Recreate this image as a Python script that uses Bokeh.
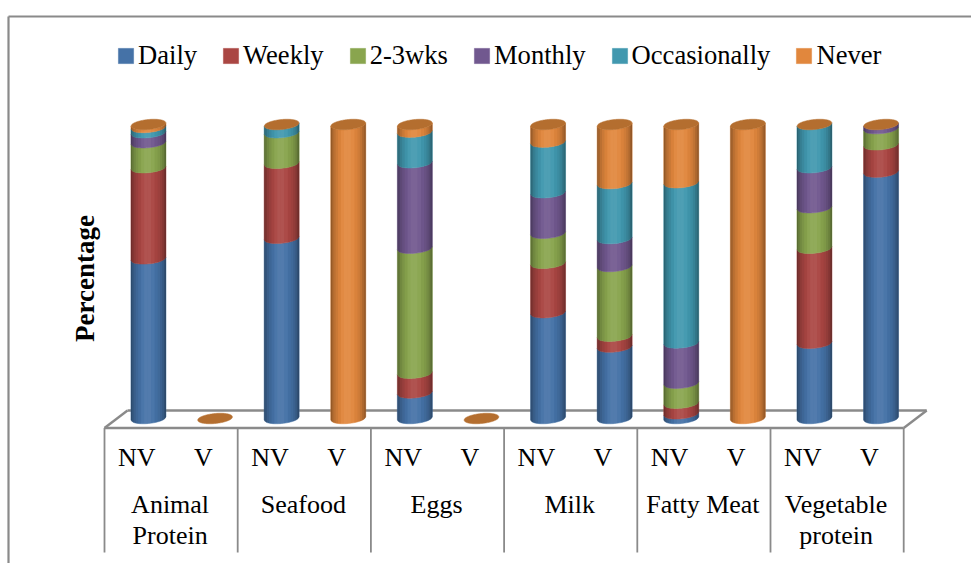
from bokeh.plotting import figure, ColumnDataSource
from bokeh.models import Range1d, LinearAxis, FixedTicker, Legend, LegendItem
from bokeh.core.properties import value
from bokeh.embed import file_html
from bokeh.resources import INLINE
import math

# ---------- data ----------
groups = ["Animal\nProtein", "Seafood", "Eggs", "Milk", "Fatty Meat", "Vegetable\nprotein"]
subgroups = ["NV", "V"]
series_names = ["Daily", "Weekly", "2-3wks", "Monthly", "Occasionally", "Never"]
series_colors = ["#4572A7", "#AA4643", "#89A54E", "#71588F", "#4198AF", "#E1873D"]
# bar order: Animal NV, V, Seafood NV, V, Eggs NV, V, Milk NV, V, Fatty NV, V, Veg NV, V
daily        = [54.3, 0, 61.3, 0,   8.7, 0, 36.0, 24.3, 1.6, 0,   25.6, 83.8]
weekly       = [31.0, 0, 25.5, 0,   6.7, 0, 16.8, 3.7,  3.6, 0,   32.3, 9.3]
two_three    = [8.5,  0, 10.4, 0,  42.5, 0, 10.2, 23.7, 6.8, 0,   13.8, 5.5]
monthly      = [3.4,  0, 0,    0,  29.1, 0, 13.8, 9.5, 13.7, 0,   13.6, 1.4]
occasionally = [1.8,  0, 2.8,  0,  10.4, 0, 17.2, 18.7, 54.5, 0,  14.7, 0]
never        = [1.0,  0, 0,    100, 2.6, 0, 6.0,  20.1, 19.8, 100, 0,   0]
series_values = [daily, weekly, two_three, monthly, occasionally, never]

# ---------- layout ----------
W, H = 971, 563
PX0, PY0 = 0, 0            # page offset of the figure
SLOT = 66.6                # px per bar slot
X0 = 137.3                 # page x of slot 0 on the front edge
Y0 = 423.0                 # page y of value 0 (front of base)
UNIT = 2.94                # px per percent
def sx(px): return (px - X0) / SLOT
def sy(py): return (Y0 - py) / UNIT

GREY = "#8A8A8A"
FONT = "Liberation Serif"
CAP = "#B46E2F"
DEPTH = 0.16               # bar offset in slots, from the floor's depth
HALF_W = 17.5 / SLOT
ARC = 5.0 / UNIT           # half height of a cross-section ellipse
TILT = 1.6 / UNIT          # the ellipses lean slightly up to the right
FLOOR_F, FLOOR_B = 427.5, 410.0

p = figure(width=W, height=H, output_backend="svg", toolbar_location=None,
           x_range=Range1d(sx(PX0), sx(PX0 + W)), y_range=Range1d(sy(PY0 + H), sy(PY0)),
           x_axis_location=None, y_axis_location=None, min_border=0,
           outline_line_color=None, background_fill_color="white")
p.grid.visible = False

def arc(v, ts, sign=-1):
    return [v + TILT * t + sign * ARC * math.sqrt(max(0, 1 - t * t)) + ARC for t in ts]

ts = [-1 + 2 * i / 20 for i in range(21)]
n = len(daily)

# chart frame
p.segment([sx(8), sx(8)], [sy(16), sy(16)], [sx(8), sx(971)], [sy(PY0 + H), sy(16)],
          line_color=GREY, line_width=2.2)

# floor
edges = [-0.5 + 2 * i for i in range(len(groups) + 1)]
shift = 23 / SLOT
p.segment([edges[0], edges[0] + shift, edges[0], edges[-1]],
          [sy(FLOOR_F), sy(FLOOR_B), sy(FLOOR_F), sy(FLOOR_F)],
          [edges[-1], edges[-1] + shift, edges[0] + shift, edges[-1] + shift],
          [sy(FLOOR_F), sy(FLOOR_B), sy(FLOOR_B), sy(FLOOR_B)],
          line_color=GREY, line_width=2.4)
p.segment(edges, [sy(FLOOR_F)] * len(edges), edges, [sy(552)] * len(edges),
          line_color=GREY, line_width=1.8)

# cylinder bodies, one renderer per series
body = []
for s, vals in enumerate(series_values):
    xs, ys = [], []
    for i in range(n):
        if vals[i] <= 0:
            continue
        base = sum(series_values[k][i] for k in range(s))
        top = base + vals[i]
        cx = i + DEPTH
        xs.append([cx + t * HALF_W for t in ts] + [cx + t * HALF_W for t in reversed(ts)])
        ys.append(arc(base, ts) + arc(top, list(reversed(ts))))
    body.append(p.patches(xs, ys, fill_color=series_colors[s], line_color=series_colors[s],
                          line_width=0.5))

# cylinder shading
shade_t = [-1, -0.93, -0.84, -0.72, -0.58, -0.42, -0.25, -0.05, 0.15, 0.35, 0.52, 0.66, 0.78, 0.88, 0.95, 1]
shade_c = ["black", "black", "black", "black", "black", "white", "white", "white", "white",
           "black", "black", "black", "black", "black", "black"]
shade_a = [0.34, 0.26, 0.17, 0.10, 0.04, 0.03, 0.07, 0.07, 0.03, 0.03, 0.08, 0.14, 0.22, 0.31, 0.40]
sh = {"x": [], "y": [], "c": [], "a": []}
for i in range(n):
    total = sum(v[i] for v in series_values)
    if total <= 0:
        continue
    cx = i + DEPTH
    for j in range(len(shade_c)):
        a, b = shade_t[j], shade_t[j + 1]
        pair = [a + (b - a) * q / 3 for q in range(4)]
        sh["x"].append([cx + t * HALF_W for t in pair] + [cx + t * HALF_W for t in reversed(pair)])
        sh["y"].append(arc(0, pair) + arc(total, list(reversed(pair))))
        sh["c"].append(shade_c[j])
        sh["a"].append(shade_a[j])
p.patches("x", "y", source=ColumnDataSource(sh), fill_color="c", fill_alpha="a", line_color=None)

# top caps
tc = [-1 + 2 * i / 40 for i in range(41)]
cap_x, cap_y = [], []
for i in range(n):
    total = sum(v[i] for v in series_values)
    cx = i + DEPTH
    cap_x.append([cx + t * HALF_W for t in tc] + [cx + t * HALF_W for t in reversed(tc)])
    cap_y.append(arc(total, tc) + arc(total, list(reversed(tc)), sign=1))
p.patches(cap_x, cap_y, fill_color=CAP, line_color=CAP, line_width=0.5)

# category labels
tick_pos = [i - 0.015 for i in range(n)]
xaxis = LinearAxis(fixed_location=sy(FLOOR_F), ticker=FixedTicker(ticks=tick_pos),
                   major_label_overrides={t: subgroups[i % 2] for i, t in enumerate(tick_pos)},
                   axis_line_color=None, major_tick_line_color=None, minor_tick_line_color=None,
                   major_label_standoff=9, major_label_text_font=FONT,
                   major_label_text_font_size="26px", major_label_text_color="black")
p.add_layout(xaxis, "below")

p.text([0.5 + 2 * i for i in range(len(groups))], [sy(489)] * len(groups), text=groups,
       x_offset=-1, text_font=value(FONT), text_font_size="26px", text_color="black",
       text_align="center", text_baseline="top", text_line_height=1.08)

# value axis: only its title is shown
yaxis = LinearAxis(fixed_location=sx(101), ticker=FixedTicker(ticks=[]), axis_line_color=None,
                   major_tick_line_color=None, minor_tick_line_color=None,
                   bounds=(sy(378), sy(178)),
                   axis_label="Percentage", axis_label_standoff=2, axis_label_text_font=FONT,
                   axis_label_text_font_size="27px", axis_label_text_font_style="bold",
                   axis_label_text_color="black")
p.add_layout(yaxis, "left")

# legend
legend = Legend(items=[LegendItem(label=value(nm), renderers=[r]) for nm, r in zip(series_names, body)],
                orientation="horizontal", location=(116, H - 71),
                spacing=24, padding=0, margin=0, border_line_color=None, background_fill_alpha=0,
                label_text_font=FONT, label_text_font_size="26.6px", label_text_color="black",
                glyph_width=19, glyph_height=19, label_standoff=3)
p.add_layout(legend)

open("out.html", "w").write(file_html(p, INLINE))
